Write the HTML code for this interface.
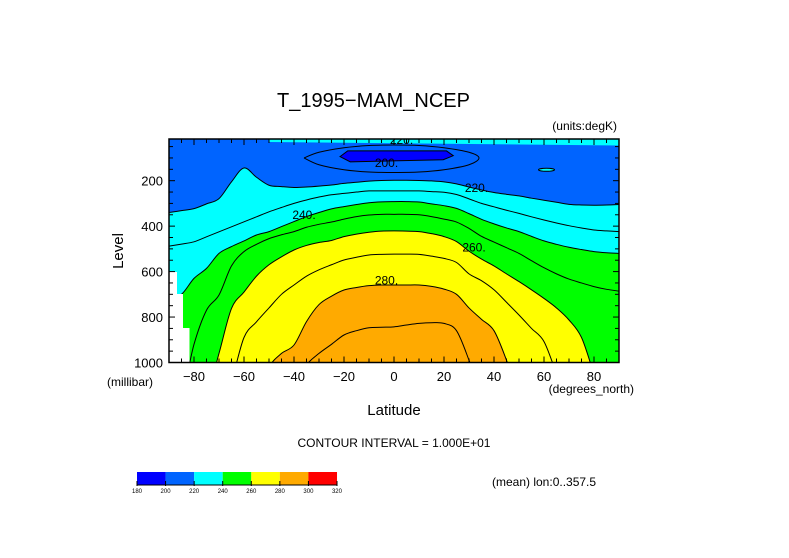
<!DOCTYPE html>
<html><head><meta charset="utf-8"><style>
html,body{margin:0;padding:0;background:#fff;}
svg{display:block;font-family:"Liberation Sans",sans-serif;}
</style></head><body>
<svg id="chart" width="789" height="558" viewBox="0 0 789 558" xmlns="http://www.w3.org/2000/svg">
<defs><clipPath id="pc"><rect x="169" y="139" width="450" height="223.5"/></clipPath></defs>
<rect width="789" height="558" fill="#fff"/>
<text x="277" y="107" font-size="20" textLength="193" lengthAdjust="spacingAndGlyphs">T_1995−MAM_NCEP</text>
<text x="617" y="130" font-size="12" text-anchor="end">(units:degK)</text>
<g id="plot" clip-path="url(#pc)"></g>
<g id="overlay"></g>
<rect x="169" y="139" width="450" height="223.5" fill="none" stroke="#000" stroke-width="1.5"/>
<text transform="translate(123,251) rotate(-90)" font-size="15" text-anchor="middle">Level</text>
<text x="107" y="386" font-size="12">(millibar)</text>
<text x="394" y="415" font-size="15" text-anchor="middle">Latitude</text>
<text x="634" y="393" font-size="12" text-anchor="end">(degrees_north)</text>
<text x="394" y="447" font-size="12" text-anchor="middle">CONTOUR INTERVAL = 1.000E+01</text>
<text x="492" y="486" font-size="12">(mean) lon:0..357.5</text>
<g id="cbar"></g>
</svg>
<script>
const lats=[-90,-85,-80,-75,-70,-65,-60,-55,-50,-45,-40,-35,-30,-25,-20,-15,-10,-5,0,5,10,15,20,25,30,35,40,45,50,55,60,65,70,75,80,85,90];
const c220=[340,332,323,302,279,205,144,185,220,226,230,228,224,219,212,207,202,199,198,198,199,201,205,214,228,241,252,260,267,277,286,295,304,307,308,307,305];
const c230=[488,479,469,447,425,403,381,359,337,318,300,285,272,262,256,250,245,245,245,245,245,248,251,261,280,300,315,330,344,359,373,386,398,408,417,421,424];
const c240=[720,700,630,586,520,490,465,439,424,402,380,358,340,324,314,305,297,293,292,292,294,302,310,322,345,370,390,408,424,445,465,480,493,503,512,517,520];
const c250=[1150,1150,920,770,703,575,512,480,455,438,424,405,392,382,369,358,351,348,348,348,350,358,369,382,410,445,470,495,520,552,583,610,633,650,666,678,686];
const c260=[1200,1200,1200,1150,960,762,690,620,570,535,505,485,472,463,446,435,427,422,421,422,424,433,446,468,510,545,575,610,644,680,718,760,813,890,1050,1200,1200];
const c270=[1200,1200,1200,1200,1200,1080,890,821,760,700,659,620,592,570,549,537,527,524,523,523,524,532,542,560,610,640,680,735,791,850,908,1050,1200,1200,1200,1200,1200];
const c280=[1200,1200,1200,1200,1200,1200,1200,1150,1020,960,923,820,745,708,681,670,662,659,659,659,659,665,677,700,760,810,860,990,1150,1200,1200,1200,1200,1200,1200,1200,1200];
const c290=[1200,1200,1200,1200,1200,1200,1200,1200,1200,1150,1100,1010,960,920,879,860,847,845,843,835,828,825,828,860,990,1150,1200,1200,1200,1200,1200,1200,1200,1200,1200,1200,1200];
const ell210Lat=[-36,-30,-20,-10,0,10,20,30,34,30,20,10,0,-10,-20,-30,-36];
const ell210P=[100,75,55,45,43,45,55,75,100,130,152,162,164,162,152,130,100];
const blob200Lat=[-21.6,-18.5,21,23.7,19.7,-17.5,-21.6];
const blob200P=[94,69,69,90,108,117,94];
const topCyanLat=[-50,-20,0,20,40,60,90,90,-50];
const topCyanP=[16,16,16,16,16,16,16,45,30];
const levelLabels=[["220.",3,22],["200.",-3,122],["220.",33,232],["240.",-36,352],["260.",32,495],["280.",-3,640]];
const cbarVals=[180,200,220,240,260,280,300,320];
const cbarColors=["#0000ff","#0064ff","#00ffff","#00ff00","#ffff00","#ffaa00","#ff0000"];
const yTicks=[200,400,600,800,1000];
const xTicks=[-80,-60,-40,-20,0,20,40,60,80];

const NS="http://www.w3.org/2000/svg";
const X=lat=>394+lat*2.5;
const Y=p=>362.5-(1000-p)/4.4;
function mk(tag,attrs,parent){const e=document.createElementNS(NS,tag);for(const k in attrs)e.setAttribute(k,attrs[k]);parent.appendChild(e);return e;}
function smooth(pts){let d="M"+pts[0][0]+","+pts[0][1];for(let i=0;i<pts.length-1;i++){const p0=pts[Math.max(0,i-1)],p1=pts[i],p2=pts[i+1],p3=pts[Math.min(pts.length-1,i+2)];d+=" C"+(p1[0]+(p2[0]-p0[0])/6)+","+(p1[1]+(p2[1]-p0[1])/6)+" "+(p2[0]-(p3[0]-p1[0])/6)+","+(p2[1]-(p3[1]-p1[1])/6)+" "+p2[0]+","+p2[1];}return d;}
const plot=document.getElementById("plot");
const bg=mk("rect",{x:169,y:139,width:450,height:224,fill:cbarColors[1]},plot);


const tc=mk("polygon",{points:topCyanLat.map((l,i)=>X(l)+","+Y(topCyanP[i])).join(" "),fill:cbarColors[2]},plot);


const bl=mk("polygon",{points:blob200Lat.map((l,i)=>X(l)+","+Y(blob200P[i])).join(" "),fill:cbarColors[0],stroke:"#000"},plot);


const el=mk("path",{d:smooth(ell210Lat.map((l,i)=>[X(l),Y(ell210P[i])])),fill:"none",stroke:"#000"},plot);


const se=mk("ellipse",{cx:X(61),cy:Y(152),rx:8,ry:1.5,fill:cbarColors[2],stroke:"#000"},plot);


const fills=[[c220,2],[c240,3],[c260,4],[c280,5]];
fills.forEach(([c,ci])=>{const pts=lats.map((l,i)=>[X(l),Y(c[i])]);const d=smooth(pts)+" L"+X(90)+","+Y(1300)+" L"+X(-90)+","+Y(1300)+" Z";const f=mk("path",{d:d,fill:cbarColors[ci]},plot);

});
[[c220,220],[c230,230],[c240,240],[c250,250],[c260,260],[c270,270],[c280,280],[c290,290]].forEach(([c,v])=>{const l=mk("path",{d:smooth(lats.map((la,i)=>[X(la),Y(c[i])])),fill:"none",stroke:"#000","stroke-width":1},plot);

});
[[169,272,8,91],[177,294,6,69],[182.5,328,7,35]].forEach(r=>{const w=mk("rect",{x:r[0],y:r[1],width:r[2],height:r[3],fill:"#fff"},plot);

});
levelLabels.forEach(([t,la,p])=>{const tx=mk("text",{x:X(la),y:Y(p)+4,"font-size":12,"text-anchor":"middle"},plot);tx.textContent=t;

});
const ov=document.getElementById("overlay");
for(let la=-90;la<=90;la+=5){const len=(la%20===0)?6:4;mk("line",{x1:X(la),x2:X(la),y1:362.5,y2:362.5-len,stroke:"#000"},ov);mk("line",{x1:X(la),x2:X(la),y1:139,y2:139+len,stroke:"#000"},ov);}
for(let p=50;p<=1000;p+=50){const len=(p%200===0)?6:4;mk("line",{x1:169,x2:169+len,y1:Y(p),y2:Y(p),stroke:"#000"},ov);mk("line",{x1:619,x2:619-len,y1:Y(p),y2:Y(p),stroke:"#000"},ov);}
yTicks.forEach(v=>{const t=mk("text",{x:163,y:Y(v)+5,"font-size":13,"text-anchor":"end"},ov);t.textContent=v;

});
xTicks.forEach(v=>{const t=mk("text",{x:X(v),y:381,"font-size":13,"text-anchor":"middle"},ov);t.textContent=v<0?"−"+(-v):v;

});
const cb=document.getElementById("cbar");
cbarColors.forEach((c,i)=>{const r=mk("rect",{x:137+i*28.57,y:472,width:28.6,height:13,fill:c},cb);

});
mk("line",{x1:137,x2:337,y1:485,y2:485,stroke:"#000"},cb);
cbarVals.forEach((v,i)=>{const x=137+i*28.57;mk("line",{x1:x,x2:x,y1:481,y2:486,stroke:"#000"},cb);const t=mk("text",{x:x,y:493,"font-size":6,"text-anchor":"middle"},cb);t.textContent=v;

});
</script>
</body></html>
